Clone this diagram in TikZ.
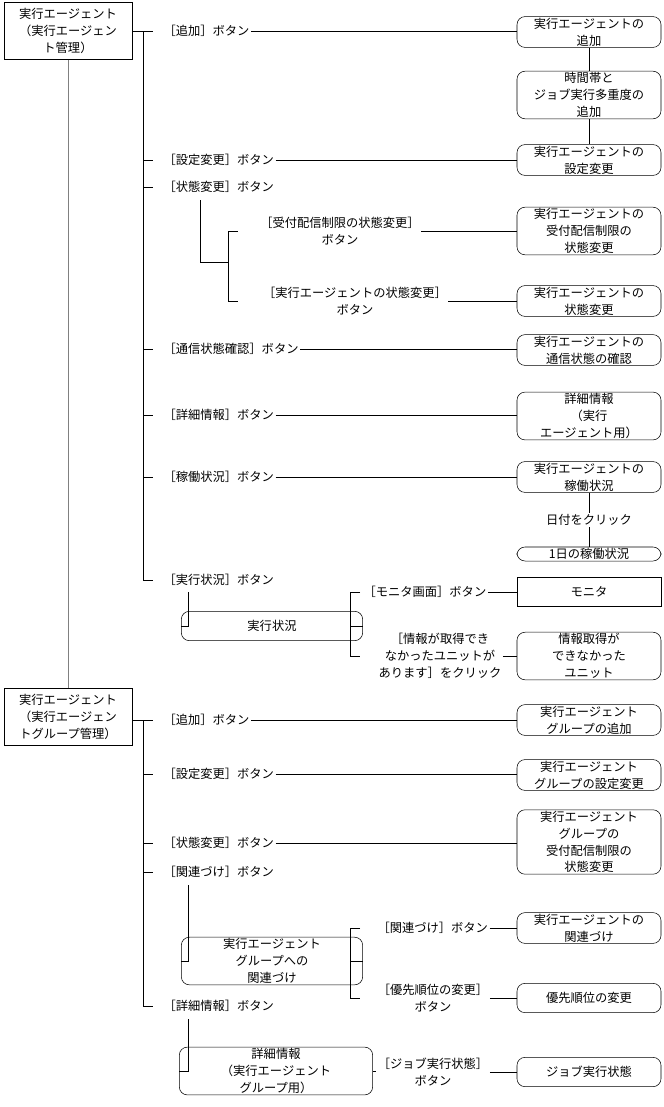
\documentclass[tikz,border=0pt]{standalone}
\usepackage{fontspec}
\newfontfamily\jp{Noto Sans CJK JP}
\begin{document}
\begin{tikzpicture}[x=0.75pt,y=-0.75pt,font=\jp\fontsize{9.2}{12.6}\selectfont,
 rb/.style={draw,rounded corners=6pt,align=center,inner sep=1pt,text width=104pt,minimum width=108pt},
 sb/.style={rb,rounded corners=0pt},
 rootbox/.style={draw,align=center,inner sep=1pt,text width=92pt,minimum width=96pt,minimum height=43pt},
 lab/.style={anchor=west,inner sep=1pt},
 clab/.style={align=center,inner sep=1pt},
 ln/.style={line width=0.6pt}]
\useasboundingbox (0,0) rectangle (664,1107);
% roots
\node[rootbox] (r1) at (68,31) {実行エージェント\\（実行エージェン\\ト管理）};
\node[rootbox] (r2) at (68,717) {実行エージェント\\（実行エージェン\\トグループ管理）};
\draw[ln,gray] (r1) -- (r2);
% trunk 1
\coordinate (t1a) at (143,31); \coordinate (t1b) at (143,580);
\draw[ln] (r1.east |- t1a) -- (t1a) -- (t1b);
\foreach \y/\n/\t in {31/l1/{［追加］ボタン},160/l2/{［設定変更］ボタン},187/l3/{［状態変更］ボタン},349/l4/{［通信状態確認］ボタン},415/l5/{［詳細情報］ボタン},477/l6/{［稼働状況］ボタン},580/l7/{［実行状況］ボタン}}{
 \node[lab] (\n) at (162,\y) {\t};
 \draw[ln] (143,\y) -- (153,\y);}
% right boxes part 1
\node[rb] (b1) at (589,32) {実行エージェントの\\追加};
\node[rb] (b2) at (589,95) {時間帯と\\ジョブ実行多重度の\\追加};
\node[rb] (b3) at (589,160) {実行エージェントの\\設定変更};
\node[rb] (b4) at (589,231) {実行エージェントの\\受付配信制限の\\状態変更};
\node[rb] (b5) at (589,301) {実行エージェントの\\状態変更};
\node[rb] (b6) at (589,350) {実行エージェントの\\通信状態の確認};
\node[rb] (b7) at (589,416) {詳細情報\\（実行\\エージェント用）};
\node[rb] (b8) at (589,477) {実行エージェントの\\稼働状況};
\node[clab] (d1) at (589,520) {日付をクリック};
\node[rb] (b9) at (589,554) {1日の稼働状況};
\node[sb,minimum height=22pt] (b10) at (589,592) {モニタ};
\node[rb] (b11) at (589,656) {情報取得が\\できなかった\\ユニット};
\draw[ln] (b1) -- (b2) -- (b3);
\draw[ln] (b8) -- (d1) -- (b9);
\draw[ln] (l1) -- (b1.west |- l1);
\draw[ln] (l2) -- (b3.west |- l2);
\draw[ln] (l4) -- (b6.west |- l4);
\draw[ln] (l5) -- (b7.west |- l5);
\draw[ln] (l6) -- (b8.west |- l6);
% status change sub
\node[clab] (s1) at (340,231) {［受付配信制限の状態変更］\\ボタン};
\node[clab] (s2) at (355,301) {［実行エージェントの状態変更］\\ボタン};
\draw[ln] (200,200) -- (200,262) -- (228,262);
\draw[ln] (228,231) -- (228,301);
\draw[ln] (228,231) -- (238,231); \draw[ln] (228,301) -- (238,301);
\draw[ln] (s1) -- (b4.west |- s1);
\draw[ln] (s2) -- (b5.west |- s2);
% exec status sub
\node[rb,text width=132pt,minimum width=136pt,minimum height=22pt] (e1) at (272,626) {実行状況};
\draw[ln] (188,592) -- (188,626) -- (e1.west);
\draw[ln] (e1.east) -- (350,626);
\draw[ln] (360,592) -- (350,592) -- (350,656) -- (360,656);
\node[lab] (m1) at (362,592) {［モニタ画面］ボタン};
\node[clab] (m2) at (440,656) {［情報が取得でき\\なかったユニットが\\あります］をクリック};
\draw[ln] (m1) -- (b10.west |- m1);
\draw[ln] (m2) -- (b11.west |- m2);
% trunk 2
\draw[ln] (r2.east |- 0,720) -- (143,720) -- (143,1006);
\foreach \y/\n/\t in {720/k1/{［追加］ボタン},774/k2/{［設定変更］ボタン},843/k3/{［状態変更］ボタン},872/k4/{［関連づけ］ボタン},1006/k5/{［詳細情報］ボタン}}{
 \node[lab] (\n) at (162,\y) {\t};
 \draw[ln] (143,\y) -- (153,\y);}
\node[rb] (c1) at (589,720) {実行エージェント\\グループの追加};
\node[rb] (c2) at (589,775) {実行エージェント\\グループの設定変更};
\node[rb] (c3) at (589,842) {実行エージェント\\グループの\\受付配信制限の\\状態変更};
\node[rb] (c4) at (589,928) {実行エージェントの\\関連づけ};
\node[rb,minimum height=22pt] (c5) at (589,998) {優先順位の変更};
\node[rb,minimum height=22pt] (c6) at (589,1072) {ジョブ実行状態};
\draw[ln] (k1) -- (c1.west |- k1);
\draw[ln] (k2) -- (c2.west |- k2);
\draw[ln] (k3) -- (c3.west |- k3);
% link sub
\node[rb,text width=132pt,minimum width=136pt] (g1) at (272,961) {実行エージェント\\グループへの\\関連づけ};
\draw[ln] (188,885) -- (188,961) -- (g1.west);
\draw[ln] (g1.east) -- (350,961);
\draw[ln] (360,928) -- (350,928) -- (350,998) -- (360,998);
\node[lab] (n1) at (376,928) {［関連づけ］ボタン};
\node[clab] (n2) at (433,998) {［優先順位の変更］\\ボタン};
\draw[ln] (n1) -- (c4.west |- n1);
\draw[ln] (n2) -- (c5.west |- n2);
% detail sub
\node[rb,text width=141pt,minimum width=145pt] (h1) at (276,1071) {詳細情報\\（実行エージェント\\グループ用）};
\draw[ln] (188,1019) -- (188,1071) -- (h1.west);
\node[clab] (h2) at (433,1072) {［ジョブ実行状態］\\ボタン};
\draw[ln] (h1.east) -- (h2.west |- h1.east);
\draw[ln] (h2) -- (c6.west |- h2);
\end{tikzpicture}
\end{document}
